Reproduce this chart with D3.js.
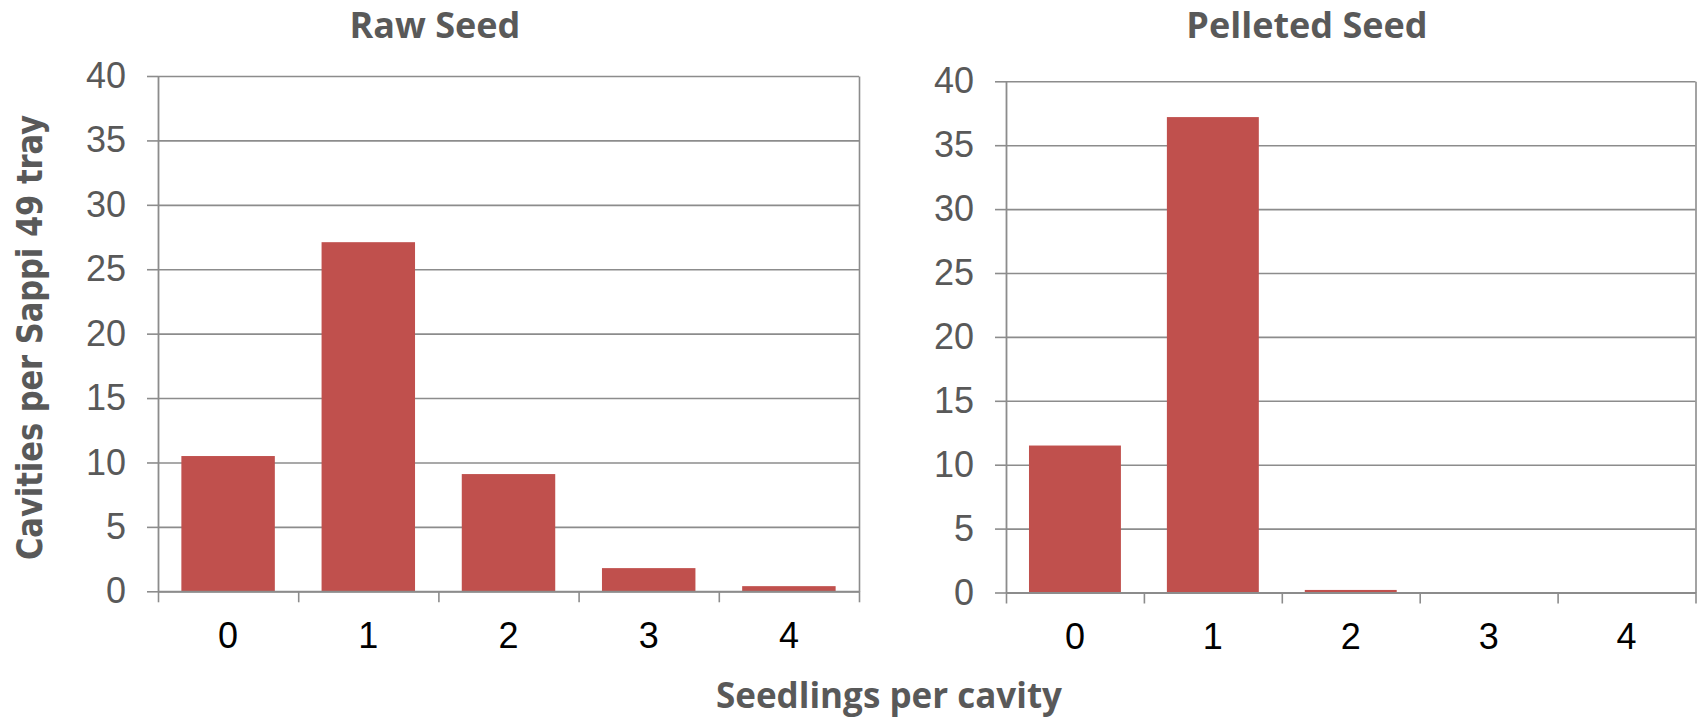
<!DOCTYPE html>
<html>
<head>
<meta charset="utf-8">
<script src="https://cdn.jsdelivr.net/npm/d3@7"></script>
<style>
  body { margin: 0; background: #fff; }
  svg { display: block; }
</style>
</head>
<body>
<svg id="chart" width="1698" height="718"></svg>
<script>
// Seedlings per cavity (x) vs. cavities per Sappi 49 tray (y)
const categories = ["0", "1", "2", "3", "4"];
const rawSeed = [10.5, 27.1, 9.1, 1.8, 0.4];
const pelletedSeed = [11.5, 37.2, 0.2, 0, 0];
const yTickValues = [0, 5, 10, 15, 20, 25, 30, 35, 40];
const panelTitles = ["Raw Seed", "Pelleted Seed"];
const yAxisTitle = "Cavities per Sappi 49 tray";
const xAxisTitle = "Seedlings per cavity";

const barColor = "#C0504D";
const lineColor = "#8c8c8c";
const textGray = "#595959";

const svg = d3.select("#chart");

const panels = [
  { title: panelTitles[0], values: rawSeed, left: 158, right: 859, top: 76, bottom: 591.3, titleX: 435 },
  { title: panelTitles[1], values: pelletedSeed, left: 1006, right: 1695.5, top: 81.3, bottom: 592.5, titleX: 1307 }
];

panels.forEach(p => {
  const g = svg.append("g");
  const y = d3.scaleLinear().domain([0, 40]).range([p.bottom, p.top]);
  const x = d3.scaleBand().domain(categories).range([p.left, p.right])
    .paddingInner(1 / 3).paddingOuter(1 / 6);
  const xEdges = d3.scaleLinear().domain([0, categories.length]).range([p.left, p.right]);

  // horizontal gridlines
  const grid = g.append("g")
    .attr("transform", `translate(${p.left},0)`)
    .call(d3.axisLeft(y).tickValues(yTickValues).tickSize(-(p.right - p.left)).tickFormat(""));
  grid.select(".domain").remove();
  grid.selectAll(".tick line").attr("stroke", lineColor).attr("stroke-width", 1.6);

  // right border of the plot area
  const rb = g.append("g")
    .attr("transform", `translate(${p.right},0)`)
    .call(d3.axisRight(y).tickValues([]).tickSizeOuter(0));
  rb.select(".domain").attr("stroke", lineColor).attr("stroke-width", 1.6);

  // bars
  g.append("g").selectAll("rect")
    .data(p.values)
    .join("rect")
    .attr("x", (d, i) => x(categories[i]))
    .attr("width", x.bandwidth())
    .attr("y", d => y(d))
    .attr("height", d => y(0) - y(d))
    .attr("fill", barColor);

  // y axis with labels
  const ya = g.append("g")
    .attr("transform", `translate(${p.left},0)`)
    .call(d3.axisLeft(y).tickValues(yTickValues).tickSize(11).tickPadding(21).tickSizeOuter(0));
  ya.select(".domain").attr("stroke", lineColor).attr("stroke-width", 1.8);
  ya.selectAll(".tick line").attr("stroke", lineColor).attr("stroke-width", 1.6);
  ya.selectAll(".tick text")
    .attr("fill", textGray)
    .style("font-family", "'Liberation Sans', Arial, sans-serif")
    .style("font-size", "36px");

  // x axis: ticks at category boundaries
  const xa = g.append("g")
    .attr("transform", `translate(0,${p.bottom})`)
    .call(d3.axisBottom(xEdges).tickValues(d3.range(categories.length + 1)).tickSize(11).tickFormat("").tickSizeOuter(0));
  xa.select(".domain").attr("stroke", lineColor).attr("stroke-width", 2);
  xa.selectAll(".tick line").attr("stroke", lineColor).attr("stroke-width", 1.6);

  // x category labels
  const xl = g.append("g")
    .attr("transform", `translate(0,${p.bottom})`)
    .call(d3.axisBottom(x).tickSize(0).tickPadding(31));
  xl.select(".domain").remove();
  xl.selectAll(".tick text")
    .attr("fill", "#000")
    .style("font-family", "'Liberation Sans', Arial, sans-serif")
    .style("font-size", "36px");

  // panel title
  g.append("text")
    .attr("x", p.titleX)
    .attr("y", 38)
    .attr("text-anchor", "middle")
    .attr("fill", textGray)
    .style("font-family", "'Open Sans', sans-serif")
    .style("font-weight", 700)
    .style("font-size", "36px")
    .text(p.title);
});

// shared axis titles
svg.append("text")
  .attr("x", 889)
  .attr("y", 708)
  .attr("text-anchor", "middle")
  .attr("fill", textGray)
  .style("font-family", "'Open Sans', sans-serif")
  .style("font-weight", 700)
  .style("font-size", "35px")
  .text(xAxisTitle);

svg.append("text")
  .attr("transform", "translate(41.5,337.5) rotate(-90)")
  .attr("text-anchor", "middle")
  .attr("fill", textGray)
  .attr("textLength", 445)
  .attr("lengthAdjust", "spacingAndGlyphs")
  .style("font-family", "'DejaVu Sans', Verdana, sans-serif")
  .style("font-weight", 700)
  .style("font-size", "36px")
  .text(yAxisTitle);
</script>
</body>
</html>
